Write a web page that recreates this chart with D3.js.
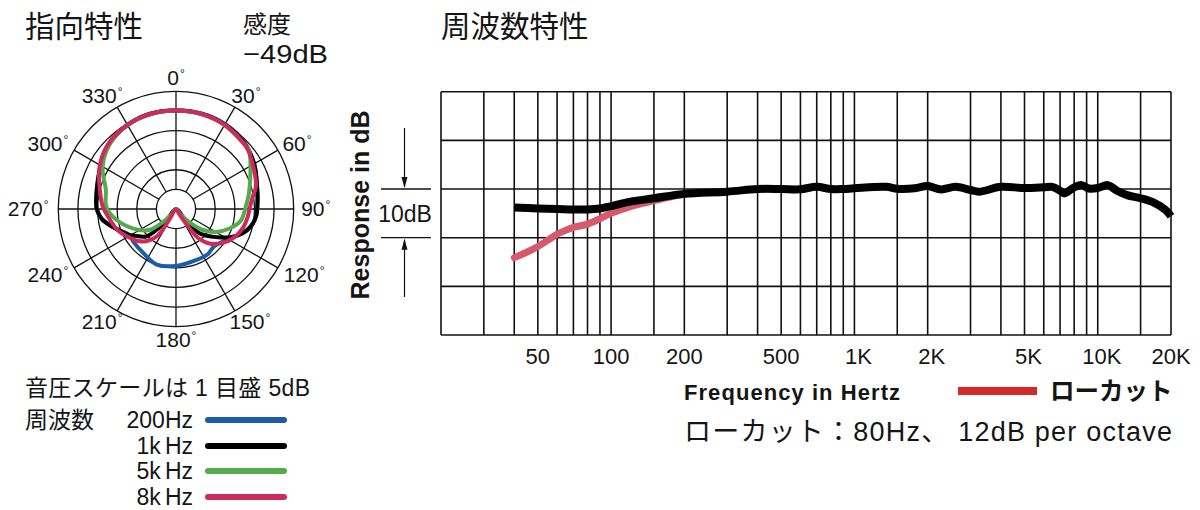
<!DOCTYPE html>
<html>
<head>
<meta charset="utf-8">
<style>
  html, body { margin: 0; padding: 0; background: #fff; }
  svg { display: block; }
  text { font-family: "Liberation Sans", "Noto Sans CJK JP", sans-serif; fill: #151515; }
</style>
</head>
<body>
<svg id="chart" width="1200" height="510" viewBox="0 0 1200 510" xmlns="http://www.w3.org/2000/svg"></svg>
<script src="https://d3js.org/d3.v7.min.js"></script>
<script>

// ---------- polar pattern data: [angle in degrees, level in dB] ----------
const polarAngles = [0, 30, 60, 90, 120, 150, 180, 210, 240, 270, 300, 330];
const polarRings = [-25, -20, -15, -10, -5, 0]; // 5dB per ring

const pattern200 = [
  [0, -4.8], [15, -4.8], [30, -5.0], [45, -5.6], [60, -7.0], [75, -8.6], [84, -9.1],
  [95, -9.5], [103, -10.4], [110, -12.0], [122, -15.0], [135, -16.4], [145, -15.9],
  [158, -16.0], [180, -15.5], [199, -15.0], [216, -16.0], [232, -16.3], [241, -16.4],
  [254, -13.3], [262, -11.0], [270, -9.8], [280, -9.4], [290, -8.8], [300, -7.9],
  [315, -6.1], [330, -5.2], [345, -4.8]
];
const pattern1k = [
  [0, -4.9], [15, -4.9], [30, -5.1], [45, -5.7], [60, -7.0], [75, -8.6], [84, -9.1],
  [95, -9.5], [103, -10.4], [110, -11.9], [118, -14.6], [125, -17.5], [131, -19.6],
  [136, -21.4], [141, -26.0], [180, -30], [219, -26.0], [227, -19.8], [234, -18.2],
  [241, -16.4], [248, -14.8], [254, -13.3], [262, -11.0], [270, -9.8], [280, -9.4],
  [290, -8.8], [300, -7.9], [315, -6.2], [330, -5.3], [345, -4.9]
];
const pattern5k = [
  [0, -4.9], [15, -5.0], [30, -5.3], [45, -6.0], [51, -6.1], [62, -8.5], [78, -11.0],
  [88, -12.2], [100, -13.2], [110, -15.5], [120, -18.3], [128, -21.3], [134, -24.7],
  [140, -28.0], [180, -30], [220, -28.0], [226, -24.7], [232, -21.3], [246, -17.9],
  [260, -14.5], [272, -12.2], [285, -11.5], [300, -8.4], [315, -6.3], [330, -5.3], [345, -5.0]
];
const pattern8k = [
  [0, -4.9], [15, -4.9], [30, -5.2], [45, -5.9], [51, -6.3], [63, -7.7], [74, -8.8],
  [81, -10.2], [88, -11.1], [96, -11.6], [106, -12.3], [116, -13.5], [126, -15.3],
  [136, -17.8], [142, -20.3], [145, -24.0], [148, -28.5], [180, -30], [212, -27.0],
  [215, -21.5], [222, -19.0], [230, -17.3], [240, -15.8], [250, -14.2], [262, -12.8],
  [272, -11.3], [284, -10.0], [297, -8.0], [310, -6.4], [322, -5.6], [338, -5.0], [350, -4.9]
];
const patternNames = ["200Hz", "1kHz", "5kHz", "8kHz"];
const patternColors = ["#1b5ea8", "#000000", "#55ab4b", "#cf2a5c"];
const patterns = [pattern200, pattern1k, pattern5k, pattern8k];

// ---------- frequency response data: [Hz, dB] ----------
const gridFreqs = [20, 30, 40, 50, 60, 70, 80, 90, 100, 150, 200, 300, 400, 500, 600, 700, 800, 900,
  1000, 1500, 2000, 3000, 4000, 5000, 6000, 7000, 8000, 9000, 10000, 15000, 20000];
const freqTicks = [50, 100, 200, 500, 1000, 2000, 5000, 10000, 20000];
const freqTickLabels = ["50", "100", "200", "500", "1K", "2K", "5K", "10K", "20K"];
const dbLines = [-30, -20, -10, 0, 10, 20];

const responseFlat = [
  [40, -3.8], [50, -4.0], [60, -4.1], [70, -4.2], [80, -4.2], [90, -4.0], [100, -3.5],
  [120, -2.6], [150, -1.9], [200, -1.0], [300, -0.55], [400, 0], [500, 0], [600, -0.05],
  [700, 0.45], [800, 0], [900, 0], [1000, 0.15], [1350, 0.45], [1500, 0.05], [1770, 0.15],
  [2000, 0.6], [2270, -0.1], [2600, 0.45], [3000, -0.2], [3250, -0.55], [4000, 0.45],
  [5000, 0.2], [6000, 0.35], [6500, 0.45], [7000, -0.35], [7300, -0.9], [8000, 0.35],
  [8600, 0.8], [9200, 0.1], [10000, 0.2], [11000, 0.8], [12000, -0.35], [13200, -1.25],
  [15000, -1.9], [17000, -2.8], [19000, -4.3], [20000, -5.6]
];
const responseLowCut = [
  [40, -14.1], [45, -13.0], [50, -11.8], [55, -10.5], [60, -9.3], [65, -8.5], [70, -7.9],
  [80, -7.2], [90, -6.1], [100, -5.0], [120, -3.6], [150, -2.4], [180, -1.5], [200, -1.1]
];

const svg = d3.select("#chart");

// ================= titles =================
svg.append("text").attr("x", 25).attr("y", 37).attr("font-size", 29.5).text("指向特性");
svg.append("text").attr("x", 243).attr("y", 33).attr("font-size", 24).text("感度");
svg.append("text").attr("x", 243).attr("y", 63).attr("font-size", 26)
  .attr("textLength", 85).attr("lengthAdjust", "spacingAndGlyphs").text("−49dB");
svg.append("text").attr("x", 441).attr("y", 37).attr("font-size", 29.5).text("周波数特性");

// ================= polar chart =================
const pc = { x: 176, y: 209 };
const r = d3.scaleLinear().domain([-30, 0]).range([0, 117.7]).clamp(true);
const polar = svg.append("g").attr("transform", `translate(${pc.x},${pc.y})`);

polarRings.forEach(db => {
  polar.append("circle")
    .attr("r", r(db))
    .attr("fill", "none")
    .attr("stroke", "#111")
    .attr("stroke-width", 1.3);
});

polarAngles.forEach(a => {
  const t = a * Math.PI / 180;
  polar.append("line")
    .attr("x1", r(-25) * Math.sin(t))
    .attr("y1", -r(-25) * Math.cos(t))
    .attr("x2", r(0) * Math.sin(t))
    .attr("y2", -r(0) * Math.cos(t))
    .attr("stroke", "#111")
    .attr("stroke-width", 1.3);
});

const radial = d3.lineRadial()
  .angle(d => d[0] * Math.PI / 180)
  .radius(d => r(d[1]))
  .curve(d3.curveCatmullRomClosed.alpha(0.5));

patterns.forEach((p, i) => {
  polar.append("path")
    .attr("d", radial(p))
    .attr("fill", "none")
    .attr("stroke", patternColors[i])
    .attr("stroke-width", 4)
    .attr("stroke-linejoin", "round");
});

// angle labels
polarAngles.forEach(a => {
  const t = a * Math.PI / 180;
  const lbl = polar.append("text")
    .attr("font-size", 21)
    .attr("text-anchor", "middle");
  lbl.append("tspan").text(a);
  lbl.append("tspan").attr("font-size", 12).attr("dy", -7).attr("dx", 1).text("°");
  const w = lbl.node().getComputedTextLength();
  const cx = (120 + w * 0.7) * Math.sin(t);
  const cy = -131 * Math.cos(t);
  lbl.attr("x", cx).attr("y", cy + 7);
});

// legend
svg.append("text").attr("x", 25).attr("y", 396).attr("font-size", 23)
  .attr("textLength", 285).attr("lengthAdjust", "spacing")
  .text("音圧スケールは 1 目盛 5dB");
svg.append("text").attr("x", 25).attr("y", 428).attr("font-size", 23).text("周波数");
const legendY = [420, 446, 471, 497];
patternNames.forEach((name, i) => {
  const t = svg.append("text")
    .attr("x", 193)
    .attr("y", legendY[i] + 8)
    .attr("font-size", 23)
    .attr("text-anchor", "end");
  if (name === "200Hz") {
    t.text(name);
  } else {
    t.append("tspan").text(name.replace("Hz", ""));
    t.append("tspan").attr("dx", 4).text("Hz");
  }
  svg.append("line")
    .attr("x1", 208).attr("x2", 284)
    .attr("y1", legendY[i]).attr("y2", legendY[i])
    .attr("stroke", patternColors[i])
    .attr("stroke-width", 6)
    .attr("stroke-linecap", "round");
});

// ================= frequency response =================
const x = d3.scaleLog().domain([20, 20000]).range([441, 1171]);
const y = d3.scaleLinear().domain([-30, 20]).range([335, 91.7]);

gridFreqs.forEach(f => {
  svg.append("line")
    .attr("x1", x(f)).attr("x2", x(f))
    .attr("y1", y(20)).attr("y2", y(-30))
    .attr("stroke", "#111")
    .attr("stroke-width", 1.6);
});
dbLines.forEach(db => {
  svg.append("line")
    .attr("x1", x(20)).attr("x2", x(20000))
    .attr("y1", y(db)).attr("y2", y(db))
    .attr("stroke", "#111")
    .attr("stroke-width", 1.6);
});

freqTicks.forEach((f, i) => {
  svg.append("text")
    .attr("x", x(f) + (f >= 1000 && f < 20000 ? 4 : 0))
    .attr("y", 364)
    .attr("font-size", 22)
    .attr("text-anchor", "middle")
    .text(freqTickLabels[i]);
});

const respLine = d3.line()
  .x(d => x(d[0]))
  .y(d => y(d[1]))
  .curve(d3.curveCatmullRom.alpha(0.5));

svg.append("path")
  .attr("d", respLine(responseLowCut))
  .attr("fill", "none")
  .attr("stroke", "#d65a6c")
  .attr("stroke-width", 7)
  .attr("stroke-linecap", "round");

svg.append("path")
  .attr("d", respLine(responseFlat))
  .attr("fill", "none")
  .attr("stroke", "#000")
  .attr("stroke-width", 8)
  .attr("stroke-linejoin", "round");

// y axis label + 10dB marker
svg.append("text")
  .attr("transform", `translate(369,205) rotate(-90)`)
  .attr("font-size", 25)
  .attr("font-weight", "bold")
  .attr("text-anchor", "middle")
  .text("Response in dB");

[0, -10].forEach(db => {
  svg.append("line")
    .attr("x1", 381).attr("x2", 431)
    .attr("y1", y(db)).attr("y2", y(db))
    .attr("stroke", "#111").attr("stroke-width", 1.3);
});
svg.append("text")
  .attr("x", 405).attr("y", 222)
  .attr("font-size", 23)
  .attr("text-anchor", "middle")
  .text("10dB");

const ax = 404.5;
svg.append("line").attr("x1", ax).attr("x2", ax).attr("y1", 128).attr("y2", y(0) - 2)
  .attr("stroke", "#111").attr("stroke-width", 1.2);
svg.append("path")
  .attr("d", `M${ax - 3},${y(0) - 12}L${ax},${y(0) - 1}L${ax + 3},${y(0) - 12}Z`)
  .attr("fill", "#111");
svg.append("line").attr("x1", ax).attr("x2", ax).attr("y1", y(-10) + 2).attr("y2", 297)
  .attr("stroke", "#111").attr("stroke-width", 1.2);
svg.append("path")
  .attr("d", `M${ax - 3},${y(-10) + 12}L${ax},${y(-10) + 1}L${ax + 3},${y(-10) + 12}Z`)
  .attr("fill", "#111");

// captions
svg.append("text")
  .attr("x", 684).attr("y", 400)
  .attr("font-size", 22)
  .attr("font-weight", "bold")
  .attr("textLength", 216).attr("lengthAdjust", "spacing")
  .text("Frequency in Hertz");

svg.append("line")
  .attr("x1", 958).attr("x2", 1037)
  .attr("y1", 391).attr("y2", 391)
  .attr("stroke", "#d22b27")
  .attr("stroke-width", 8);
svg.append("text")
  .attr("x", 1050).attr("y", 400)
  .attr("font-size", 24.5)
  .attr("font-weight", "bold")
  .text("ローカット");

svg.append("text")
  .attr("x", 684).attr("y", 441)
  .attr("font-size", 27)
  .attr("textLength", 488).attr("lengthAdjust", "spacing")
  .text("ローカット：80Hz、 12dB per octave");
</script>
</body>
</html>
